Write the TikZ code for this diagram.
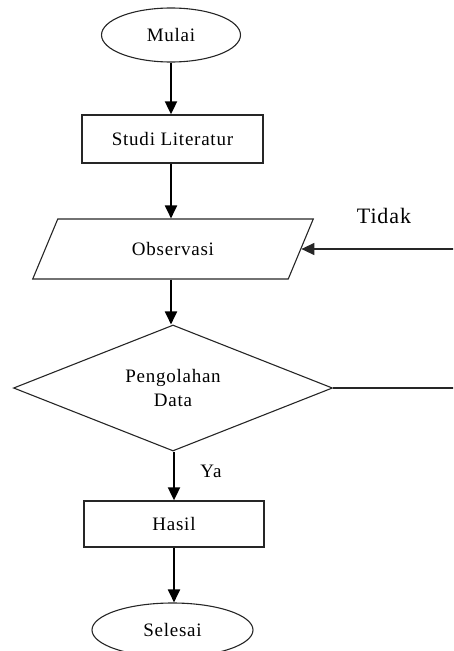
\documentclass[tikz,border=0pt]{standalone}
\usepackage{fontspec}
\setmainfont{Liberation Serif}[LetterSpace=4]
\usetikzlibrary{shapes.geometric,arrows.meta}
\begin{document}
\begin{tikzpicture}[x=1pt,y=-1pt,
  every node/.style={font=\fontsize{19}{24}\selectfont, text=black},
  box/.style={draw=black!85, line width=1.3pt, rectangle, inner sep=0pt},
  term/.style={draw=black!85, line width=1.1pt, ellipse, inner sep=0pt},
  io/.style={draw=black!85, line width=1.1pt, trapezium, trapezium stretches=true,
    trapezium left angle=56.3, trapezium right angle=123.7, inner sep=0pt,
    minimum width=281pt, minimum height=60pt},
  decide/.style={draw=black!85, line width=1.1pt, diamond, shape aspect=2.53,
    inner sep=0pt, minimum width=319pt, minimum height=126pt, align=center},
  arr/.style={draw=black, line width=1.9pt, -{Triangle[width=12pt,length=13pt]}},
  plain/.style={draw=black!85, line width=1.3pt},
  lbl/.style={inner sep=0pt}
]
\useasboundingbox (0,0) rectangle (453,651);
\clip (0,0) rectangle (453,651);

\node[term, minimum width=139pt, minimum height=54pt] (mulai) at (171,35) {Mulai};
\node[box, minimum width=181pt, minimum height=48pt] (studi) at (172.5,139) {Studi Literatur};
\node[io] (obs) at (173,249) {Observasi};
\node[decide] (proc) at (173,388) {Pengolahan\\Data};
\node[box, minimum width=180pt, minimum height=46pt] (hasil) at (174,524) {Hasil};
\node[term, minimum width=161pt, minimum height=54pt] (selesai) at (172.5,630) {Selesai};

\node[lbl, font=\fontsize{22}{24}\selectfont] (tidak) at (384,216) {Tidak};
\node[lbl] (ya) at (211,471) {Ya};

\coordinate (loopB) at (475,388);

\draw[arr] (mulai.south -| 171,0) -- (studi.north -| 171,0);
\draw[arr] (studi.south -| 171,0) -- (obs.north -| 171,0);
\draw[arr] (obs.south -| 171,0) -- (proc.north -| 171,0);
\draw[arr] (proc.south -| 174,0) -- (hasil.north -| 174,0);
\draw[arr] (hasil.south -| 174,0) -- (selesai.north -| 174,0);
\draw[plain, -{Triangle[width=12pt,length=13pt]}] (proc.east) -- (loopB) |- (obs.east);
\end{tikzpicture}
\end{document}
